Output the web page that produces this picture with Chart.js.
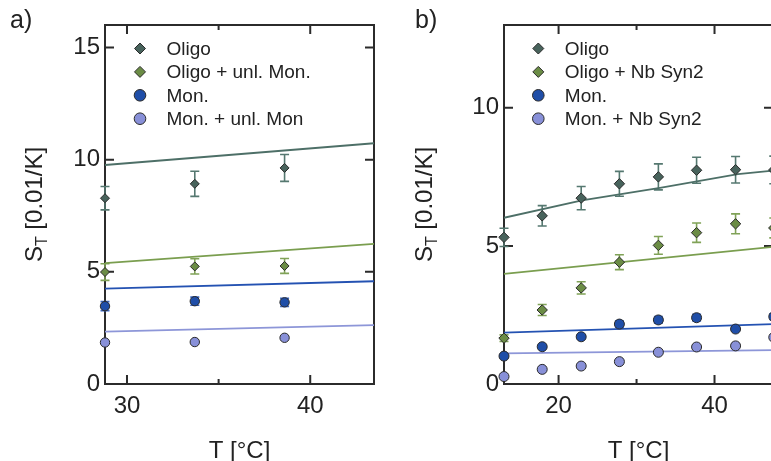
<!DOCTYPE html>
<html>
<head>
<meta charset="utf-8">
<script src="https://cdn.jsdelivr.net/npm/chart.js@4.4.1/dist/chart.umd.min.js"></script>
<style>
  html, body { margin: 0; padding: 0; overflow: hidden; background: #fff; width: 771px; height: 461px; }
  #wrapA { position: absolute; left: 0; top: 0; width: 390px; height: 461px; }
  #wrapB { position: absolute; left: 390px; top: 0; width: 400px; height: 461px; }
</style>
</head>
<body>
<div id="wrapA"><canvas id="chartA" width="390" height="461"></canvas></div>
<div id="wrapB"><canvas id="chartB" width="400" height="461"></canvas></div>
<script>
// ─── Panel a) data ───────────────────────────────────────────────────────────
var T_A             = [28.8, 33.7, 38.6];
var A_OLIGO         = [8.28, 8.92, 9.63];
var A_OLIGO_ERR     = [0.52, 0.56, 0.60];
var A_OLIGO_UNL     = [4.99, 5.24, 5.26];
var A_OLIGO_UNL_ERR = [0.37, 0.34, 0.33];
var A_MON           = [3.47, 3.69, 3.64];
var A_MON_ERR       = [0.20, 0.18, 0.18];
var A_MON_UNL       = [1.85, 1.87, 2.06];
// fit lines, read at both ends of the axis
var A_FIT_T         = [28.8, 43.5];
var A_FIT_OLIGO     = [9.76, 10.73];
var A_FIT_OLIGO_UNL = [5.39, 6.25];
var A_FIT_MON       = [4.25, 4.58];
var A_FIT_MON_UNL   = [2.33, 2.62];
var A_XTICKS = [30, 40];
var A_XMINOR = [35];
var A_YTICKS = [0, 5, 10, 15];
var A_LABELS = ['Oligo', 'Oligo + unl. Mon.', 'Mon.', 'Mon. + unl. Mon'];

// ─── Panel b) data ───────────────────────────────────────────────────────────
var T_B            = [13, 17.9, 22.9, 27.8, 32.8, 37.7, 42.7, 47.6];
var B_OLIGO        = [5.31, 6.09, 6.73, 7.25, 7.50, 7.74, 7.76, 7.75];
var B_OLIGO_ERR    = [0.33, 0.37, 0.42, 0.45, 0.47, 0.47, 0.48, 0.50];
var B_OLIGO_NB     = [1.66, 2.68, 3.48, 4.41, 5.02, 5.48, 5.80, 5.65];
var B_OLIGO_NB_ERR = [0.12, 0.20, 0.22, 0.27, 0.32, 0.35, 0.36, 0.36];
var B_MON          = [1.01, 1.35, 1.71, 2.17, 2.32, 2.40, 1.99, 2.44];
var B_MON_ERR      = [0.05, 0.05, 0.06, 0.12, 0.12, 0.12, 0.06, 0.10];
var B_MON_NB       = [0.27, 0.53, 0.65, 0.81, 1.15, 1.34, 1.38, 1.69];
var B_FIT_T        = [13, 23, 33, 43, 47.6];
var B_FIT_OLIGO    = [6.02, 6.65, 7.10, 7.60, 7.73];
var B_FIT_T2       = [13, 47.6];
var B_FIT_OLIGO_NB = [3.99, 4.97];
var B_FIT_MON      = [1.86, 2.17];
var B_FIT_MON_NB   = [1.11, 1.23];
var B_XTICKS = [20, 40];
var B_XMINOR = [30];
var B_YTICKS = [0, 5, 10];
var B_LABELS = ['Oligo', 'Oligo + Nb Syn2', 'Mon.', 'Mon. + Nb Syn2'];

// ─── Styling ────────────────────────────────────────────────────────────────
var FONT = '"Liberation Sans", Arial, Helvetica, sans-serif';
var TEXT = '#222';
var FRAME = '#2b2b2b';
var SERIES = [
  { fill: '#48635c', line: '#4d6f67', err: '#557870', style: 'rectRot' },
  { fill: '#6b8c45', line: '#7a9e4f', err: '#80a257', style: 'rectRot' },
  { fill: '#1f4ea8', line: '#2452b2', err: '#3d68c2', style: 'circle' },
  { fill: '#8890d8', line: '#8d96d8', err: '#8d96d8', style: 'circle' }
];

function pts(xs, ys) {
  return xs.map(function(x, i) { return { x: x, y: ys[i] }; });
}

function markerSet(idx, xs, ys, errs, r) {
  var s = SERIES[idx];
  return {
    data: pts(xs, ys), errors: errs, errColor: s.err,
    showLine: false, pointStyle: s.style, pointRadius: r, clip: false,
    backgroundColor: s.fill, borderColor: '#2a2a2a', pointBorderWidth: 1
  };
}

function fitSet(idx, xs, ys) {
  return {
    data: pts(xs, ys), showLine: true, pointRadius: 0,
    borderColor: SERIES[idx].line, borderWidth: 1.8, fill: false
  };
}

// ─── Plugins: box frame with inward ticks, error bars, legend, titles ───────
function makeFrame(cfg) {
  return {
    id: 'frame',
    beforeDatasetsDraw: function(chart) {
      var ctx = chart.ctx, a = chart.chartArea;
      var xs = chart.scales.x, ys = chart.scales.y;
      ctx.save();
      ctx.strokeStyle = FRAME;
      ctx.lineWidth = 2;
      ctx.strokeRect(a.left, a.top, a.right - a.left, a.bottom - a.top);
      ctx.beginPath();
      function xt(v, len) {
        var px = xs.getPixelForValue(v);
        ctx.moveTo(px, a.bottom); ctx.lineTo(px, a.bottom - len);
        ctx.moveTo(px, a.top); ctx.lineTo(px, a.top + len);
      }
      cfg.xticks.forEach(function(v) { xt(v, 9); });
      cfg.xminor.forEach(function(v) { xt(v, 5); });
      cfg.yticks.forEach(function(v) {
        if (v === 0) return;
        var py = ys.getPixelForValue(v);
        ctx.moveTo(a.left, py); ctx.lineTo(a.left + 9, py);
        ctx.moveTo(a.right, py); ctx.lineTo(a.right - 9, py);
      });
      ctx.stroke();
      ctx.restore();
    }
  };
}

var errorBars = {
  id: 'errorBars',
  beforeDatasetsDraw: function(chart) {
    var ctx = chart.ctx, xs = chart.scales.x, ys = chart.scales.y;
    chart.data.datasets.forEach(function(ds) {
      if (!ds.errors) return;
      ctx.save();
      ctx.strokeStyle = ds.errColor;
      ctx.lineWidth = 1.6;
      ds.data.forEach(function(p, i) {
        var e = ds.errors[i];
        if (!e) return;
        var px = xs.getPixelForValue(p.x);
        var y1 = ys.getPixelForValue(p.y - e), y2 = ys.getPixelForValue(p.y + e);
        ctx.beginPath();
        ctx.moveTo(px, y1); ctx.lineTo(px, y2);
        ctx.moveTo(px - 4.5, y1); ctx.lineTo(px + 4.5, y1);
        ctx.moveTo(px - 4.5, y2); ctx.lineTo(px + 4.5, y2);
        ctx.stroke();
      });
      ctx.restore();
    });
  }
};

function makeDecor(cfg) {
  return {
    id: 'decor',
    afterDraw: function(chart) {
      var ctx = chart.ctx, a = chart.chartArea;
      ctx.save();

      // legend
      ctx.font = '19px ' + FONT;
      ctx.textBaseline = 'middle';
      ctx.textAlign = 'left';
      cfg.labels.forEach(function(lab, i) {
        var y = 48.5 + i * 23.4, x = cfg.legendX, s = SERIES[i];
        ctx.beginPath();
        if (s.style === 'circle') {
          ctx.arc(x, y, 5.8, 0, Math.PI * 2);
        } else {
          ctx.moveTo(x - 5.5, y); ctx.lineTo(x, y - 5.5);
          ctx.lineTo(x + 5.5, y); ctx.lineTo(x, y + 5.5); ctx.closePath();
        }
        ctx.fillStyle = s.fill; ctx.fill();
        ctx.lineWidth = 1; ctx.strokeStyle = '#2a2a2a'; ctx.stroke();
        ctx.fillStyle = TEXT;
        ctx.fillText(lab, x + 26.5, y + 1);
      });

      // panel label
      ctx.textBaseline = 'alphabetic';
      ctx.font = '25px ' + FONT;
      ctx.fillText(cfg.panel, cfg.panelX, 28);

      // x title
      ctx.textAlign = 'center';
      ctx.font = '24px ' + FONT;
      ctx.fillText('T [°C]', (a.left + a.right) / 2, 458);

      // y title with subscript, rotated
      ctx.translate(cfg.yTitleX, (a.top + a.bottom) / 2);
      ctx.rotate(-Math.PI / 2);
      ctx.textAlign = 'left';
      ctx.font = '24px ' + FONT;
      var wS = ctx.measureText('S').width, wR = ctx.measureText(' [0.01/K]').width;
      ctx.font = '16px ' + FONT;
      var wT = ctx.measureText('T').width;
      var x0 = -(wS + wT + wR) / 2;
      ctx.font = '24px ' + FONT;
      ctx.fillText('S', x0, 0);
      ctx.font = '16px ' + FONT;
      ctx.fillText('T', x0 + wS, 5);
      ctx.font = '24px ' + FONT;
      ctx.fillText(' [0.01/K]', x0 + wS + wT, 0);
      ctx.restore();
    }
  };
}

function buildChart(canvasId, datasets, cfg) {
  return new Chart(document.getElementById(canvasId).getContext('2d'), {
    type: 'scatter',
    data: { datasets: datasets },
    plugins: [makeFrame(cfg), errorBars, makeDecor(cfg)],
    options: {
      responsive: false,
      animation: false,
      layout: { padding: { left: 0, top: 25, right: cfg.padRight, bottom: 0 } },
      plugins: { legend: { display: false }, tooltip: { enabled: false } },
      scales: {
        x: {
          type: 'linear', min: cfg.xmin, max: cfg.xmax,
          grid: { display: false, drawTicks: false }, border: { display: false },
          ticks: { font: { family: FONT, size: 24 }, color: TEXT, padding: 8, maxRotation: 0 },
          afterBuildTicks: function(s) { s.ticks = cfg.xticks.map(function(v) { return { value: v }; }); },
          afterFit: function(s) { s.height = 77; }
        },
        y: {
          type: 'linear', min: 0, max: cfg.ymax,
          grid: { display: false, drawTicks: false }, border: { display: false },
          ticks: { font: { family: FONT, size: 24 }, color: TEXT, padding: 5 },
          afterBuildTicks: function(s) { s.ticks = cfg.yticks.map(function(v) { return { value: v }; }); },
          afterFit: function(s) { s.width = cfg.yWidth; }
        }
      }
    }
  });
}

// marker datasets first so they are painted on top of the fit lines
buildChart('chartA', [
  markerSet(0, T_A, A_OLIGO, A_OLIGO_ERR, 4.5),
  markerSet(1, T_A, A_OLIGO_UNL, A_OLIGO_UNL_ERR, 4.5),
  markerSet(2, T_A, A_MON, A_MON_ERR, 4.7),
  markerSet(3, T_A, A_MON_UNL, null, 4.7),
  fitSet(0, A_FIT_T, A_FIT_OLIGO),
  fitSet(1, A_FIT_T, A_FIT_OLIGO_UNL),
  fitSet(2, A_FIT_T, A_FIT_MON),
  fitSet(3, A_FIT_T, A_FIT_MON_UNL)
], {
  xmin: 28.8, xmax: 43.48, ymax: 16, padRight: 16, yWidth: 105,
  xticks: A_XTICKS, xminor: A_XMINOR, yticks: A_YTICKS, labels: A_LABELS,
  legendX: 140, panel: 'a)', panelX: 10, yTitleX: 41.5
});

buildChart('chartB', [
  markerSet(0, T_B, B_OLIGO, B_OLIGO_ERR, 5.2),
  markerSet(1, T_B, B_OLIGO_NB, B_OLIGO_NB_ERR, 5.2),
  markerSet(2, T_B, B_MON, B_MON_ERR, 5),
  markerSet(3, T_B, B_MON_NB, null, 5),
  fitSet(0, B_FIT_T, B_FIT_OLIGO),
  fitSet(1, B_FIT_T2, B_FIT_OLIGO_NB),
  fitSet(2, B_FIT_T2, B_FIT_MON),
  fitSet(3, B_FIT_T2, B_FIT_MON_NB)
], {
  xmin: 13, xmax: 47.5, ymax: 13, padRight: 17, yWidth: 114,
  xticks: B_XTICKS, xminor: B_XMINOR, yticks: B_YTICKS, labels: B_LABELS,
  legendX: 148.3, panel: 'b)', panelX: 25, yTitleX: 41.7
});
</script>
</body>
</html>
